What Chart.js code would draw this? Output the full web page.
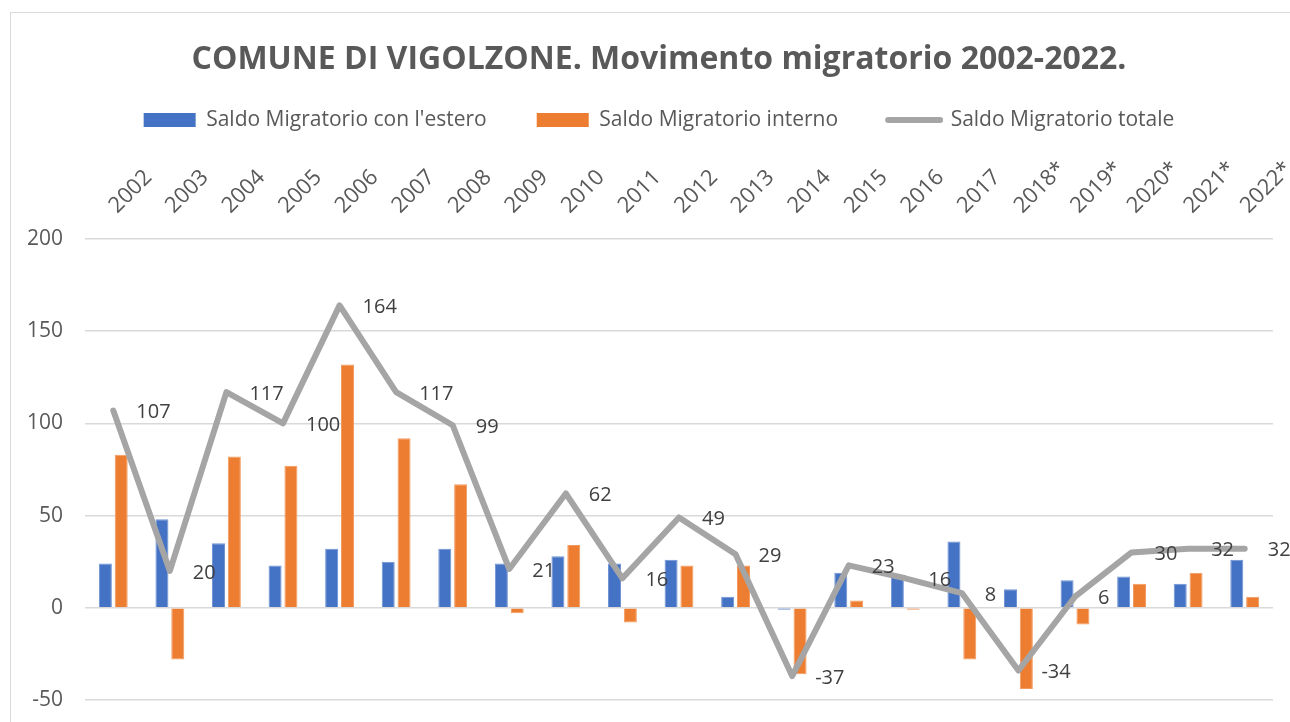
<!DOCTYPE html>
<html>
<head>
<meta charset="utf-8">
<script src="https://cdn.jsdelivr.net/npm/chart.js@4.4.1/dist/chart.umd.min.js"></script>
<style>
  html, body { margin: 0; padding: 0; background: #fff; }
  #wrap { position: relative; width: 1290px; height: 722px; }
  #frame { position: absolute; left: 10px; top: 12px; width: 1290px; height: 720px; border: 1px solid #d9d9d9; box-sizing: border-box; }
  canvas { position: absolute; left: 0; top: 0; }
</style>
</head>
<body>
<div id="wrap">
  <div id="frame"></div>
  <canvas id="migChart" width="1290" height="722"></canvas>
</div>
<script>
// anni (gli ultimi con asterisco come nel grafico originale)
const anni = ['2002', '2003', '2004', '2005', '2006', '2007', '2008', '2009', '2010', '2011', '2012',
  '2013', '2014', '2015', '2016', '2017', '2018*', '2019*', '2020*', '2021*', '2022*'];
const saldoEstero = [24, 48, 35, 23, 32, 25, 32, 24, 28, 24, 26, 6, -1, 19, 17, 36, 10, 15, 17, 13, 26];
const saldoInterno = [83, -28, 82, 77, 132, 92, 67, -3, 34, -8, 23, 23, -36, 4, -1, -28, -44, -9, 13, 19, 6];
const saldoTotale = [107, 20, 117, 100, 164, 117, 99, 21, 62, 16, 49, 29, -37, 23, 16, 8, -34, 6, 30, 32, 32];
const yTicks = [-50, 0, 50, 100, 150, 200];

const fontFam = '"Open Sans", "Liberation Sans", sans-serif';

// etichette del totale, a destra dei punti della linea
const lineLabels = {
  id: 'lineLabels',
  afterDatasetsDraw(chart) {
    const meta = chart.getDatasetMeta(2);
    const ctx = chart.ctx;
    ctx.save();
    ctx.font = '20px ' + fontFam;
    ctx.fillStyle = '#404040';
    ctx.textAlign = 'left';
    ctx.textBaseline = 'middle';
    meta.data.forEach((pt, i) => {
      ctx.fillText(String(saldoTotale[i]), pt.x + 23, pt.y + 2);
    });
    ctx.restore();
  }
};

// etichette degli assi: anni inclinati in alto, valori a sinistra
const axisLabels = {
  id: 'axisLabels',
  afterDraw(chart) {
    const xs = chart.scales.x;
    const ys = chart.scales.y;
    const ctx = chart.ctx;
    const top = chart.chartArea.top;
    ctx.save();
    ctx.fillStyle = '#595959';
    ctx.font = '22px ' + fontFam;
    ctx.textAlign = 'left';
    ctx.textBaseline = 'alphabetic';
    anni.forEach((a, i) => {
      ctx.save();
      ctx.translate(xs.getPixelForTick(i) + 4, top - 25);
      ctx.rotate(-Math.PI / 4);
      ctx.fillText(a, 0, 0);
      ctx.restore();
    });
    ctx.font = '21px ' + fontFam;
    ctx.textAlign = 'right';
    ctx.textBaseline = 'middle';
    yTicks.forEach(v => {
      ctx.fillText(String(v), 63, ys.getPixelForValue(v));
    });
    ctx.restore();
  }
};

new Chart(document.getElementById('migChart'), {
  type: 'bar',
  data: {
    labels: anni,
    datasets: [
      {
        label: "Saldo Migratorio con l'estero",
        data: saldoEstero,
        backgroundColor: '#4472C4',
        borderColor: '#6f93d4',
        borderWidth: 1,
        categoryPercentage: 0.56,
        barPercentage: 0.82,
        order: 2
      },
      {
        label: 'Saldo Migratorio interno',
        data: saldoInterno,
        backgroundColor: '#ED7D31',
        borderColor: '#f29a5e',
        borderWidth: 1,
        categoryPercentage: 0.56,
        barPercentage: 0.82,
        order: 2
      },
      {
        type: 'line',
        label: 'Saldo Migratorio totale',
        data: saldoTotale,
        borderColor: '#A5A5A5',
        backgroundColor: '#A5A5A5',
        borderWidth: 6,
        borderJoinStyle: 'round',
        borderCapStyle: 'round',
        pointRadius: 0,
        pointHoverRadius: 0,
        tension: 0,
        order: 1
      }
    ]
  },
  options: {
    responsive: false,
    animation: false,
    layout: { padding: { left: 45, right: 17, top: 0, bottom: 22 } },
    plugins: {
      title: {
        display: true,
        text: 'COMUNE DI VIGOLZONE. Movimento migratorio 2002-2022.',
        color: '#595959',
        font: { family: fontFam, size: 32, weight: 'bold' },
        padding: { top: 41, bottom: -20 }
      },
      legend: {
        position: 'top',
        labels: {
          color: '#595959',
          font: { family: fontFam, size: 21 },
          usePointStyle: true,
          pointStyleWidth: 52,
          boxHeight: 14,
          padding: 50,
          generateLabels(chart) {
            return chart.data.datasets.map((ds, i) => ({
              text: ds.label,
              fillStyle: ds.backgroundColor,
              strokeStyle: ds.type === 'line' ? ds.borderColor : ds.backgroundColor,
              lineWidth: ds.type === 'line' ? 6 : 0,
              lineCap: 'round',
              pointStyle: ds.type === 'line' ? 'line' : 'rect',
              fontColor: '#595959',
              datasetIndex: i
            }));
          }
        }
      },
      tooltip: { enabled: false }
    },
    scales: {
      x: {
        position: 'top',
        grid: { display: false },
        border: { display: false },
        ticks: { display: false },
        afterFit(scale) {
          scale.height = 98.6;
        }
      },
      y: {
        min: -50,
        max: 200,
        afterBuildTicks(scale) {
          scale.ticks = yTicks.map(v => ({ value: v }));
        },
        afterFit(scale) {
          scale.width = 40;
        },
        grid: { color: '#d9d9d9', lineWidth: 1.5, drawTicks: false },
        border: { display: false },
        ticks: { display: false }
      }
    }
  },
  plugins: [lineLabels, axisLabels]
});
</script>
</body>
</html>
